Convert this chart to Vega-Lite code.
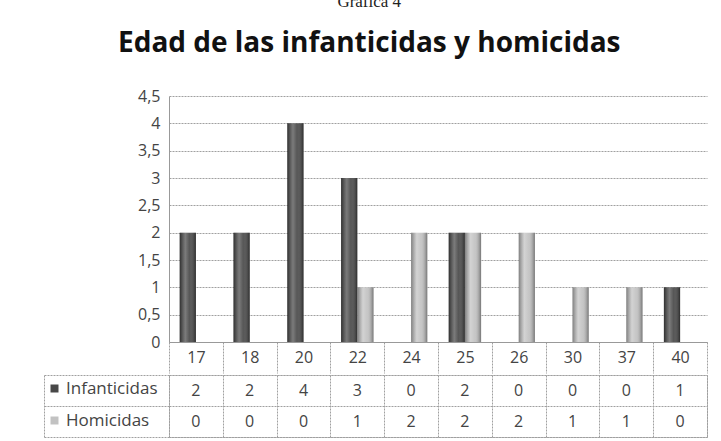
{
  "$schema": "https://vega.github.io/schema/vega-lite/v6.json",
  "padding": {"left": 43, "right": 15, "top": -7, "bottom": 6},
  "background": "white",
  "title": {
    "text": "Gráfica 4",
    "subtitle": "Edad de  las infanticidas y homicidas",
    "font": "Liberation Serif", "fontSize": 17, "fontWeight": "normal", "color": "#222",
    "subtitleFont": "Open Sans", "subtitleFontSize": 28, "subtitleFontWeight": "bold", "subtitleColor": "#111",
    "subtitlePadding": 19, "anchor": "middle", "dx": -6, "offset": 29
  },
  "datasets": {
    "d": [
      {"age": "17", "serie": "Infanticidas", "value": 2},
      {"age": "18", "serie": "Infanticidas", "value": 2},
      {"age": "20", "serie": "Infanticidas", "value": 4},
      {"age": "22", "serie": "Infanticidas", "value": 3},
      {"age": "24", "serie": "Infanticidas", "value": 0},
      {"age": "25", "serie": "Infanticidas", "value": 2},
      {"age": "26", "serie": "Infanticidas", "value": 0},
      {"age": "30", "serie": "Infanticidas", "value": 0},
      {"age": "37", "serie": "Infanticidas", "value": 0},
      {"age": "40", "serie": "Infanticidas", "value": 1},
      {"age": "17", "serie": "Homicidas", "value": 0},
      {"age": "18", "serie": "Homicidas", "value": 0},
      {"age": "20", "serie": "Homicidas", "value": 0},
      {"age": "22", "serie": "Homicidas", "value": 1},
      {"age": "24", "serie": "Homicidas", "value": 2},
      {"age": "25", "serie": "Homicidas", "value": 2},
      {"age": "26", "serie": "Homicidas", "value": 2},
      {"age": "30", "serie": "Homicidas", "value": 1},
      {"age": "37", "serie": "Homicidas", "value": 1},
      {"age": "40", "serie": "Homicidas", "value": 0}
    ]
  },
  "data": {"name": "d"},
  "spacing": 0,
  "resolve": {"scale": {"x": "independent", "y": "independent"}},
  "vconcat": [
    {
      "width": 538,
      "height": 246,
      "view": {"stroke": null},
      "encoding": {
        "x": {
          "field": "age", "type": "ordinal", "sort": null,
          "scale": {"paddingInner": 0, "paddingOuter": 0},
          "axis": {
            "title": null, "labelAngle": 0, "labelFont": "Open Sans", "labelFontSize": 16, "labelColor": "#444",
            "tickBand": "extent", "tickSize": 31, "tickColor": "#a0a0a0", "tickDash": [2, 1],
            "domainColor": "#999", "labelBaseline": "middle", "labelPadding": -16, "grid": false
          }
        },
        "xOffset": {"field": "serie", "type": "nominal", "sort": ["Infanticidas", "Homicidas"], "scale": {"paddingInner": 0, "paddingOuter": 0.66}},
        "y": {
          "field": "value", "type": "quantitative",
          "scale": {"domain": [0, 4.5], "nice": false},
          "axis": {
            "title": null, "values": [0, 0.5, 1, 1.5, 2, 2.5, 3, 3.5, 4, 4.5],
            "labelExpr": "replace(toString(datum.value), '.', ',')",
            "labelFont": "Open Sans", "labelFontSize": 16, "labelColor": "#444", "labelPadding": 9,
            "ticks": false, "domainColor": "#999", "grid": true, "gridColor": "#a0a0a0", "gridDash": [2, 1]
          }
        }
      },
      "layer": [
        {
          "mark": {"type": "bar"},
          "encoding": {
            "color": {
              "field": "serie", "type": "nominal",
              "scale": {"domain": ["Infanticidas", "Homicidas"], "range": ["#484848", "#c2c2c2"]},
              "legend": {
                "title": null, "orient": "none", "legendX": -123, "legendY": 284,
                "symbolType": "square", "symbolSize": 64, "symbolStrokeWidth": 0,
                "labelFont": "Open Sans", "labelFontSize": 17, "labelColor": "#444",
                "rowPadding": 14, "labelOffset": 3
              }
            }
          }
        },
        {
          "mark": {
            "type": "bar",
            "color": {
              "gradient": "linear", "x1": 0, "y1": 0, "x2": 1, "y2": 0,
              "stops": [
                {"offset": 0, "color": "rgba(0,0,0,0.35)"},
                {"offset": 0.35, "color": "rgba(255,255,255,0.28)"},
                {"offset": 0.6, "color": "rgba(255,255,255,0.08)"},
                {"offset": 1, "color": "rgba(0,0,0,0.4)"}
              ]
            }
          }
        }
      ]
    },
    {
      "width": 538,
      "height": 62,
      "view": {"stroke": "#a0a0a0", "strokeDash": [2, 1]},
      "mark": {"type": "text", "font": "Open Sans", "fontSize": 16, "color": "#444"},
      "encoding": {
        "x": {
          "field": "age", "type": "ordinal", "sort": null,
          "scale": {"paddingInner": 0, "paddingOuter": 0},
          "axis": {
            "title": null, "labels": false, "ticks": false, "domain": false,
            "grid": true, "tickBand": "extent", "gridColor": "#a0a0a0", "gridDash": [2, 1]
          }
        },
        "y": {
          "field": "serie", "type": "nominal", "sort": ["Infanticidas", "Homicidas"],
          "scale": {"paddingInner": 0, "paddingOuter": 0},
          "axis": {
            "title": null, "labels": false, "offset": 125, "ticks": true, "tickSize": -125,
            "tickBand": "extent", "tickColor": "#a0a0a0", "tickDash": [2, 1],
            "domain": true, "domainColor": "#a0a0a0", "domainDash": [2, 1],
            "grid": true, "gridColor": "#a0a0a0", "gridDash": [2, 1]
          }
        },
        "text": {"field": "value", "type": "quantitative"}
      }
    }
  ]
}
